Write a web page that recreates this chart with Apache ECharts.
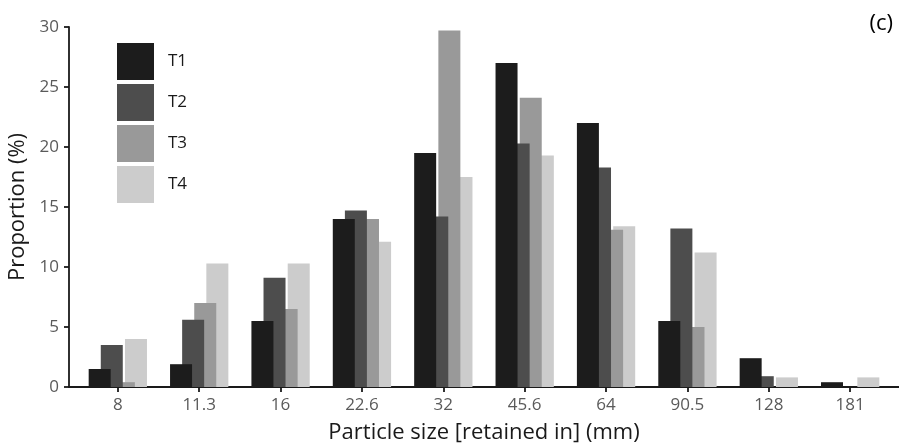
<!DOCTYPE html>
<html>
<head>
<meta charset="utf-8">
<script src="https://cdn.jsdelivr.net/npm/echarts@6/dist/echarts.min.js"></script>
<style>
  html, body { margin: 0; padding: 0; background: #fff; }
  #chart { width: 899px; height: 446px; }
</style>
</head>
<body>
<div id="chart"></div>
<script>
const sizes = ['8', '11.3', '16', '22.6', '32', '45.6', '64', '90.5', '128', '181'];
const seriesNames = ['T1', 'T2', 'T3', 'T4'];
const t1 = [1.5, 1.9, 5.5, 14.0, 19.5, 27.0, 22.0, 5.5, 2.4, 0.4];
const t2 = [3.5, 5.6, 9.1, 14.7, 14.2, 20.3, 18.3, 13.2, 0.9, 0];
const t3 = [0.4, 7.0, 6.5, 14.0, 29.7, 24.1, 13.1, 5.0, 0, 0];
const t4 = [4.0, 10.3, 10.3, 12.1, 17.5, 19.3, 13.4, 11.2, 0.8, 0.8];
const yTicks = [0, 5, 10, 15, 20, 25, 30];

const colors = ['#1c1c1c', '#4d4d4d', '#999999', '#cccccc'];
const fontFamily = 'Open Sans';
const positions = sizes.map(function (s, i) { return i; });

function toPoints(values) {
  return values.map(function (v, i) { return [i, v]; });
}

const chart = echarts.init(document.getElementById('chart'));

const allValues = [t1, t2, t3, t4];
const series = allValues.map(function (vals, k) {
  return {
    name: seriesNames[k],
    type: 'bar',
    data: toPoints(vals),
    barWidth: 22,
    barGap: '-45%',
    z: 10 - k,
    itemStyle: { color: colors[k] }
  };
});

const option = {
  animation: false,
  textStyle: { fontFamily: fontFamily },
  title: {
    text: '(c)',
    right: 1,
    top: 8,
    textStyle: { fontSize: 22, fontWeight: 'normal', color: '#000', fontFamily: fontFamily }
  },
  legend: {
    orient: 'vertical',
    left: 117,
    top: 43,
    padding: 0,
    itemWidth: 37,
    itemHeight: 37,
    itemGap: 4,
    icon: 'rect',
    data: seriesNames,
    textStyle: { fontSize: 17, color: '#1a1a1a', padding: [3, 0, 0, 9], fontFamily: fontFamily }
  },
  grid: {
    left: 69,
    right: 0,
    top: 27,
    bottom: 59,
    containLabel: false,
    outerBoundsMode: 'none'
  },
  xAxis: {
    type: 'value',
    min: -0.6,
    max: 9.6,
    name: 'Particle size [retained in] (mm)',
    nameLocation: 'middle',
    nameGap: 35,
    nameTextStyle: { fontSize: 22, color: '#1a1a1a', fontFamily: fontFamily },
    splitLine: { show: false },
    axisLine: { show: true, onZero: false, lineStyle: { color: '#1a1a1a', width: 1.8 } },
    axisTick: { show: true, length: 5, customValues: positions, lineStyle: { color: '#1a1a1a', width: 1.8 } },
    axisLabel: {
      customValues: positions,
      margin: 10,
      fontSize: 17,
      color: '#5a5a5a',
      formatter: function (v) { return sizes[Math.round(v)]; }
    }
  },
  yAxis: {
    type: 'value',
    min: 0,
    max: 30,
    interval: 5,
    name: 'Proportion (%)',
    nameLocation: 'middle',
    nameGap: 37,
    nameTextStyle: { fontSize: 22, color: '#1a1a1a', fontFamily: fontFamily },
    splitLine: { show: false },
    axisLine: { show: true, onZero: false, lineStyle: { color: '#1a1a1a', width: 1.8 } },
    axisTick: { show: true, length: 5, lineStyle: { color: '#1a1a1a', width: 1.8 } },
    axisLabel: {
      margin: 10,
      fontSize: 17,
      color: '#5a5a5a',
      formatter: function (v) { return yTicks.indexOf(v) >= 0 ? String(v) : ''; }
    }
  },
  series: series
};

chart.setOption(option);
</script>
</body>
</html>
